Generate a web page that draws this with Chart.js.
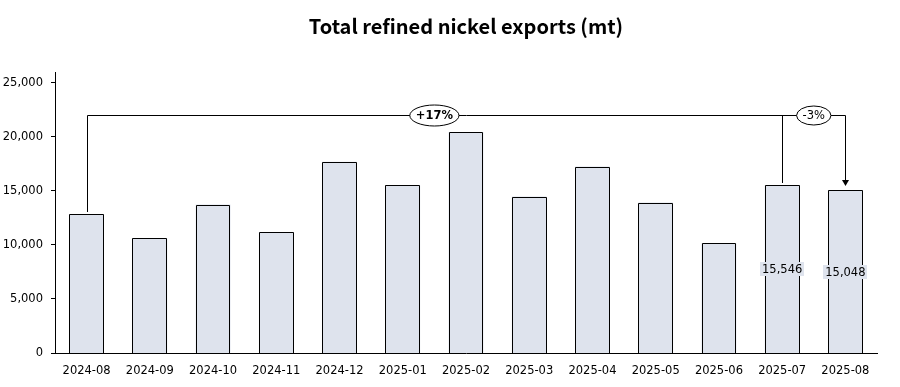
<!DOCTYPE html>
<html>
<head>
<meta charset="utf-8">
<script src="https://cdn.jsdelivr.net/npm/chart.js@4"></script>
<style>
  html, body { margin: 0; padding: 0; background: #fff; }
  #wrap { width: 900px; height: 387px; }
</style>
</head>
<body>
<div id="wrap"><canvas id="nickelChart"></canvas></div>
<script>
// ── data ──
var months = ['2024-08', '2024-09', '2024-10', '2024-11', '2024-12', '2025-01', '2025-02',
              '2025-03', '2025-04', '2025-05', '2025-06', '2025-07', '2025-08'];
var exportsMt = [12820, 10600, 13740, 11170, 17700, 15500, 20450,
                 14480, 17250, 13920, 10150, 15546, 15048];
var yTicks = [0, 5000, 10000, 15000, 20000, 25000];

// value labels shown only on these bars
var labeledIdx = [11, 12];

// comparison brackets: from index, to index, label
var bracketFrom = [0, 11];
var bracketTo = [12, 12];
var bracketText = ['+17%', '-3%'];
var bracketLevel = 22000;

var barFill = '#dee3ed';
var tickFont = '"DejaVu Sans"';

function fmt(v) {
  return v.toString().replace(/\B(?=(\d{3})+(?!\d))/g, ',');
}

// ── custom overlay: crisp bar outlines, value labels, brackets ──
var overlayPlugin = {
  id: 'overlay',
  afterDatasetsDraw: function(chart) {
    var ctx = chart.ctx;
    var xs = chart.scales.x;
    var ys = chart.scales.y;
    var levelY = Math.round(ys.getPixelForValue(bracketLevel)) + 0.5;

    ctx.save();
    ctx.strokeStyle = '#000';
    ctx.lineWidth = 1;

    // bar outlines on whole pixels
    var bars = chart.getDatasetMeta(0).data;
    for (var i = 0; i < bars.length; i++) {
      var b = bars[i];
      var l = Math.round(b.x - b.width / 2) + 0.5;
      var r = Math.round(b.x + b.width / 2) - 0.5;
      var t = Math.round(b.y) + 0.5;
      var btm = Math.round(b.base);
      ctx.fillStyle = barFill;
      ctx.fillRect(l - 0.5, t - 0.5, r - l + 1, btm - t + 0.5);
      ctx.beginPath();
      ctx.moveTo(l, btm);
      ctx.lineTo(l, t);
      ctx.lineTo(r, t);
      ctx.lineTo(r, btm);
      ctx.stroke();
    }

    // value labels
    ctx.font = '11.5px ' + tickFont;
    ctx.textAlign = 'center';
    ctx.textBaseline = 'middle';
    for (var i = 0; i < labeledIdx.length; i++) {
      var k = labeledIdx[i];
      var cx = xs.getPixelForValue(k);
      var cy = (ys.getPixelForValue(exportsMt[k]) + ys.getPixelForValue(0)) / 2;
      var txt = fmt(exportsMt[k]);
      var w = ctx.measureText(txt).width + 4;
      ctx.fillStyle = barFill;
      ctx.fillRect(Math.round(cx - w / 2), Math.round(cy - 7), Math.round(w), 14);
      ctx.fillStyle = '#000';
      ctx.fillText(txt, cx, cy + 1);
    }

    // vertical legs
    var starts = [];
    for (var i = 0; i < bracketFrom.length; i++) {
      if (starts.indexOf(bracketFrom[i]) < 0) starts.push(bracketFrom[i]);
    }
    for (var i = 0; i < starts.length; i++) {
      var px = Math.round(xs.getPixelForValue(starts[i])) + 0.5;
      var top = Math.round(ys.getPixelForValue(exportsMt[starts[i]])) - 2;
      ctx.beginPath();
      ctx.moveTo(px, levelY);
      ctx.lineTo(px, top);
      ctx.stroke();
    }

    // horizontal line and arrow to target
    var x0 = Math.round(xs.getPixelForValue(bracketFrom[0])) + 0.5;
    var xEnd = Math.round(xs.getPixelForValue(bracketTo[0])) + 0.5;
    var endTop = Math.round(ys.getPixelForValue(exportsMt[bracketTo[0]])) - 4;
    ctx.beginPath();
    ctx.moveTo(x0, levelY);
    ctx.lineTo(xEnd, levelY);
    ctx.lineTo(xEnd, endTop - 5);
    ctx.stroke();
    ctx.fillStyle = '#000';
    ctx.beginPath();
    ctx.moveTo(xEnd - 3.5, endTop - 6);
    ctx.lineTo(xEnd + 3.5, endTop - 6);
    ctx.lineTo(xEnd, endTop);
    ctx.closePath();
    ctx.fill();

    // ellipses with percentage text
    for (var i = 0; i < bracketText.length; i++) {
      var a = xs.getPixelForValue(bracketFrom[i]);
      var c = xs.getPixelForValue(i === 0 ? bracketFrom[1] : bracketTo[i]);
      var mx = (a + c) / 2;
      var bold = i === 0;
      ctx.font = (bold ? 'bold ' : '') + '11.5px ' + tickFont;
      var tw = ctx.measureText(bracketText[i]).width;
      var rx = tw / 2 + 6;
      var ry = bold ? 10.5 : 9.5;
      ctx.beginPath();
      ctx.ellipse(mx, levelY, rx, ry, 0, 0, Math.PI * 2);
      ctx.fillStyle = '#fff';
      ctx.fill();
      ctx.stroke();
      ctx.fillStyle = '#000';
      ctx.fillText(bracketText[i], mx, levelY + 1);
    }

    ctx.restore();
  }
};

// ── chart ──
var ctx = document.getElementById('nickelChart').getContext('2d');
new Chart(ctx, {
  type: 'bar',
  data: {
    labels: months,
    datasets: [{
      data: exportsMt,
      backgroundColor: barFill,
      borderWidth: 0,
      barPercentage: 0.55,
      categoryPercentage: 1
    }]
  },
  options: {
    responsive: true,
    maintainAspectRatio: false,
    animation: false,
    layout: { padding: { left: 0, right: 23, top: 0, bottom: 0 } },
    plugins: {
      legend: { display: false },
      tooltip: { enabled: false },
      title: {
        display: true,
        fullSize: false,
        text: 'Total refined nickel exports (mt)',
        color: '#000',
        font: { family: '"Noto Sans CJK SC"', size: 20, weight: 'bold' },
        padding: { top: 14, bottom: 34 }
      }
    },
    scales: {
      x: {
        grid: { display: false },
        border: { color: '#000', width: 1 },
        ticks: {
          color: '#000',
          font: { family: tickFont, size: 11.5 },
          maxRotation: 0,
          padding: 3
        },
        afterFit: function(scale) { scale.height = 34; }
      },
      y: {
        min: 0,
        max: 26000,
        grid: { drawOnChartArea: false, drawTicks: true, tickLength: 4, color: '#000' },
        border: { color: '#000', width: 1 },
        afterBuildTicks: function(axis) {
          axis.ticks = yTicks.map(function(v) { return { value: v }; });
        },
        ticks: {
          color: '#000',
          font: { family: tickFont, size: 11.5 },
          padding: 8,
          callback: function(v) { return fmt(v); }
        },
        afterFit: function(scale) { scale.width = 55; }
      }
    }
  },
  plugins: [overlayPlugin]
});
</script>
</body>
</html>
